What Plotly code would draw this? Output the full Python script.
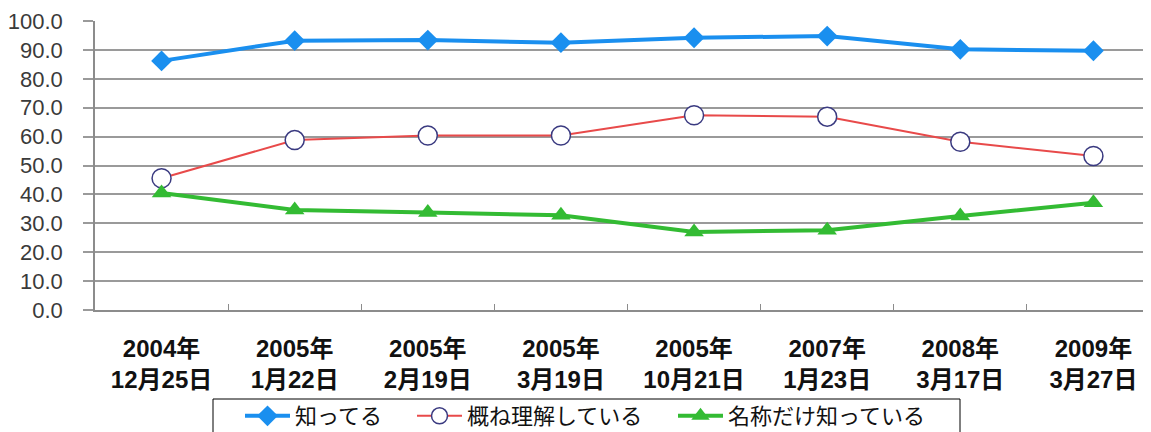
import plotly.graph_objects as go

categories = ["2004年<br>12月25日", "2005年<br>1月22日", "2005年<br>2月19日", "2005年<br>3月19日",
              "2005年<br>10月21日", "2007年<br>1月23日", "2008年<br>3月17日", "2009年<br>3月27日"]
shitteru = [86.2, 93.2, 93.4, 92.5, 94.2, 94.8, 90.2, 89.7]
oomune = [45.6, 58.8, 60.4, 60.4, 67.4, 66.9, 58.2, 53.3]
meishou = [40.5, 34.6, 33.7, 32.8, 27.0, 27.6, 32.5, 37.1]
series_names = ["知ってる", "概ね理解している", "名称だけ知っている"]
y_ticks = [0, 10, 20, 30, 40, 50, 60, 70, 80, 90, 100]

FONT = "Liberation Sans, Arial, Noto Sans CJK JP, sans-serif"
OFF = 8  # page body margin
W, H = 1151 - OFF, 432 - OFF
ML, MR, MT = 95 - OFF, 0, 21 - OFF
PW = W - ML - MR
PH = 289
MB = H - MT - PH


def px_x(p):  # page pixel -> paper x
    return (p - OFF - ML) / PW


def px_y(p):  # page pixel -> paper y
    return (OFF + MT + PH - p) / PH


fig = go.Figure()
fig.add_trace(go.Scatter(
    x=categories, y=shitteru, name=series_names[0], mode="lines+markers",
    line=dict(color="#1A8FEF", width=4),
    marker=dict(symbol="diamond", size=16, color="#1A8FEF"),
    legend="legend",
))
fig.add_trace(go.Scatter(
    x=categories, y=oomune, name=series_names[1], mode="lines+markers",
    line=dict(color="#E84A4A", width=2),
    marker=dict(symbol="circle", size=19, color="white", line=dict(color="#3A3A80", width=1.5)),
    legend="legend2",
))
fig.add_trace(go.Scatter(
    x=categories, y=meishou, name=series_names[2], mode="lines+markers",
    line=dict(color="#33BB33", width=4),
    marker=dict(symbol="triangle-up", size=17, color="#33BB33"),
    legend="legend3",
))

leg_common = dict(orientation="h", yanchor="top", y=px_y(395), xanchor="left",
                  bgcolor="rgba(0,0,0,0)", borderwidth=0, itemwidth=45,
                  font=dict(family=FONT, size=22, color="#111111"))

fig.update_layout(
    width=W, height=H,
    margin=dict(l=ML, r=MR, t=MT, b=MB, autoexpand=False),
    paper_bgcolor="white", plot_bgcolor="white",
    font=dict(family=FONT, size=22, color="#222222"),
    showlegend=True,
    legend=dict(x=px_x(240), **leg_common),
    legend2=dict(x=px_x(412), **leg_common),
    legend3=dict(x=px_x(673), **leg_common),
    shapes=[dict(type="rect", xref="paper", yref="paper",
                 x0=px_x(213), x1=px_x(960), y0=px_y(399), y1=px_y(445),
                 line=dict(color="#000000", width=1), fillcolor="rgba(0,0,0,0)")],
)
fig.update_xaxes(
    type="category", range=[-0.5, 7.5 - 9 / 133.3],
    showline=True, linecolor="#8C8C8C", linewidth=1.5,
    showgrid=False, automargin=False,
    ticks="inside", tickson="boundaries", ticklen=6, tickcolor="#8C8C8C", tickwidth=1,
    tickfont=dict(family=FONT, size=24, color="#111111", weight="bold"),
    ticklabelstandoff=16,
)
fig.update_yaxes(
    range=[0, 100], tickvals=y_ticks, tickformat=".1f",
    showline=True, linecolor="#8C8C8C", linewidth=1.5,
    showgrid=True, gridcolor="#9A9A9A", gridwidth=1.5, automargin=False,
    ticks="outside", ticklen=10, tickcolor="#9A9A9A", tickwidth=1.5,
    tickfont=dict(family=FONT, size=22, color="#3A3A3A"),
    ticklabelstandoff=16, zeroline=False,
)

fig.write_html("out.html")
